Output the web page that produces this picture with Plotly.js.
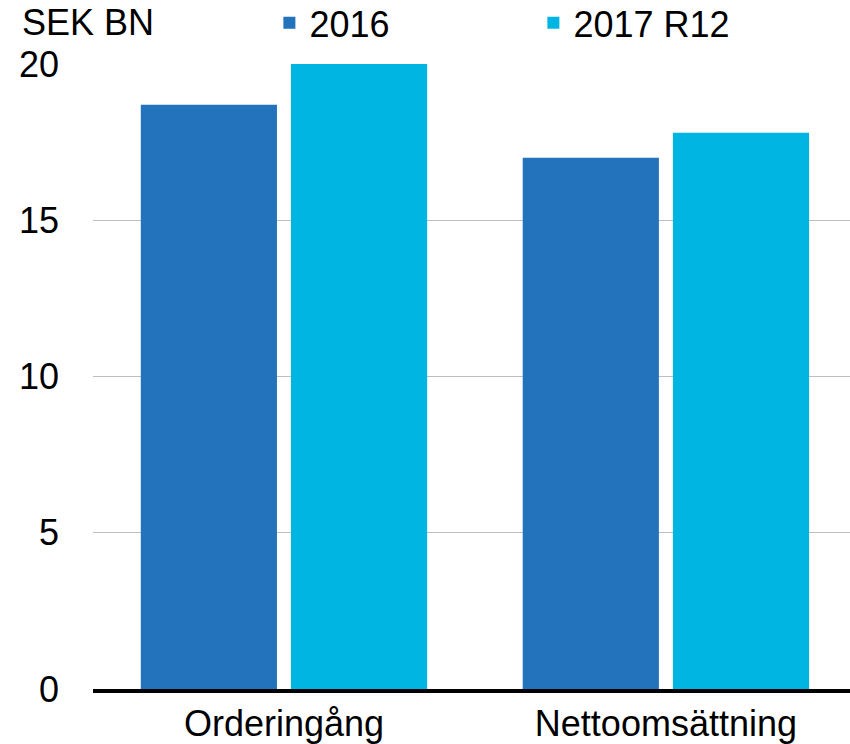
<!DOCTYPE html>
<html>
<head>
<meta charset="utf-8">
<script src="https://cdn.plot.ly/plotly-3.0.1.min.js"></script>
<style>html,body{margin:0;padding:0;background:#fff;}#chart{width:850px;height:744px;}</style>
</head>
<body>
<div id="chart"></div>
<script>
var categories = ["Orderingång", "Nettoomsättning"];
var seriesNames = ["2016", "2017 R12"];
var values2016 = [18.7, 17.0];
var values2017 = [20.0, 17.8];
var yTicks = [0, 5, 10, 15, 20];
var unitLabel = "SEK BN";

var FONT = "Liberation Sans, Arial, sans-serif";

var traces = [
  {type: "bar", name: seriesNames[0], x: categories, y: values2016, marker: {color: "#2272BC"}},
  {type: "bar", name: seriesNames[1], x: categories, y: values2017, marker: {color: "#00B5E2"}}
];

var layout = {
  width: 850, height: 744,
  margin: {l: 93, r: 0, t: 64, b: 55, pad: 0, autoexpand: false},
  paper_bgcolor: "#fff", plot_bgcolor: "#fff",
  font: {family: FONT, size: 36, color: "#000"},
  barmode: "group", bargap: 0.2136, bargroupgap: 0.0933,
  showlegend: true,
  legend: {orientation: "h", x: 0.233, xanchor: "left", y: 1.066, yanchor: "middle",
           font: {family: FONT, size: 36, color: "#000"}, entrywidth: 219, entrywidthmode: "pixels",
           bgcolor: "rgba(0,0,0,0)", borderwidth: 0, traceorder: "normal"},
  xaxis: {type: "category", range: [-0.5, 1.482], showgrid: false, zeroline: false, automargin: false,
          showline: true, linecolor: "#000", linewidth: 4, ticks: "", ticklabelstandoff: 0,
          tickfont: {family: FONT, size: 36, color: "#000"}, fixedrange: true},
  yaxis: {range: [0, 20], tickvals: yTicks, ticktext: yTicks.map(String), showgrid: true, automargin: false,
          gridcolor: "#BFBFBF", gridwidth: 1, zeroline: false, showline: false, ticks: "",
          ticklabelstandoff: 33, tickfont: {family: FONT, size: 36, color: "#000"}, fixedrange: true},
  annotations: [{text: unitLabel, xref: "paper", yref: "paper", x: -0.096, y: 1.066,
                 xanchor: "left", yanchor: "middle", showarrow: false,
                 font: {family: FONT, size: 36, color: "#000"}}]
};

Plotly.newPlot("chart", traces, layout, {displayModeBar: false, staticPlot: true});
</script>
</body>
</html>
